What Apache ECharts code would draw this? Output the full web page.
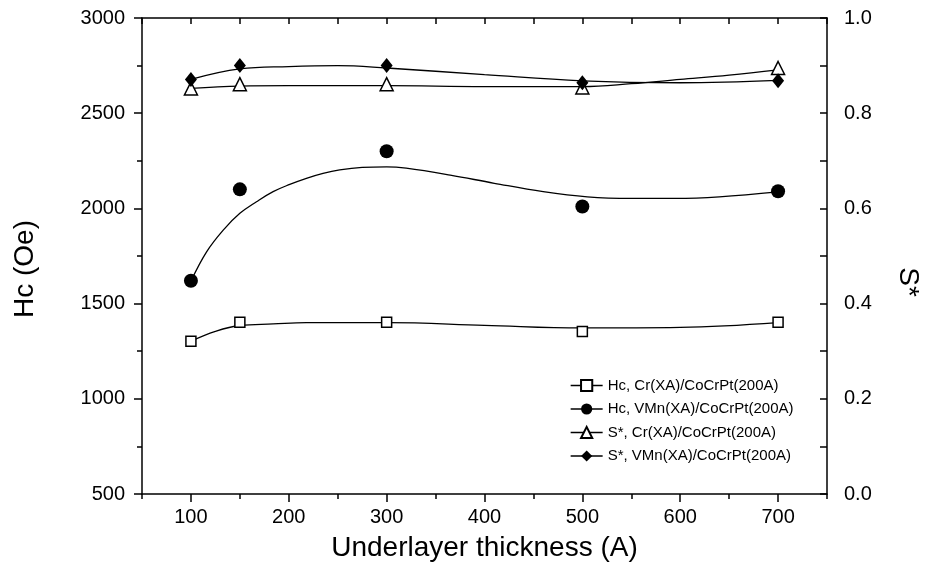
<!DOCTYPE html>
<html>
<head>
<meta charset="utf-8">
<script src="https://cdn.jsdelivr.net/npm/echarts@6/dist/echarts.min.js"></script>
<style>
  html, body { margin: 0; padding: 0; background: #fff; }
  #chart { width: 931px; height: 582px; }
</style>
</head>
<body>
<div id="chart"></div>
<script>
// measured points
const thickness = [100, 150, 300, 500, 700];
const hcCr = [1302, 1402, 1402, 1354, 1402];
const hcVMn = [1620, 2100, 2300, 2010, 2090];
const sCr = [0.852, 0.861, 0.861, 0.854, 0.895];
const sVMn = [0.871, 0.900, 0.900, 0.864, 0.868];

// fitted curves
const hcCrFitX = [100, 125, 150, 184, 218, 300, 400, 500, 600, 700];
const hcCrFitY = [1302, 1354, 1385, 1393, 1400, 1400, 1386, 1372, 1375, 1400];
const hcVMnFitX = [100, 116, 133, 150, 167, 184, 201, 218, 235, 252, 275, 300, 320, 365, 410, 460, 505, 550, 595, 640, 700];
const hcVMnFitY = [1618, 1772, 1886, 1974, 2035, 2088, 2126, 2158, 2184, 2202, 2215, 2218, 2211, 2175, 2132, 2088, 2061, 2053, 2053, 2061, 2087];
const sCrFitX = [100, 150, 200, 300, 400, 500, 550, 600, 650, 700];
const sCrFitY = [0.852, 0.857, 0.858, 0.858, 0.856, 0.856, 0.862, 0.871, 0.880, 0.891];
const sVMnFitX = [100, 150, 200, 250, 300, 400, 500, 600, 700];
const sVMnFitY = [0.871, 0.893, 0.898, 0.900, 0.895, 0.881, 0.868, 0.864, 0.869];

// axis ticks
const xMajorTicks = [100, 200, 300, 400, 500, 600, 700];

const names = [
  'Hc, Cr(XA)/CoCrPt(200A)',
  'Hc, VMn(XA)/CoCrPt(200A)',
  'S*, Cr(XA)/CoCrPt(200A)',
  'S*, VMn(XA)/CoCrPt(200A)'
];

const font = 'Arial, "Liberation Sans", sans-serif';
const zip = (xs, ys) => xs.map((x, i) => [x, ys[i]]);
const black = { color: '#000', width: 1.5 };

function pointSeries(name, data, axis, symbol, size, hollow) {
  return {
    name: name,
    type: 'line',
    yAxisIndex: axis,
    data: zip(thickness, data),
    symbol: symbol,
    symbolSize: size,
    showAllSymbol: true,
    lineStyle: { opacity: 0, color: '#000', width: 1.3 },
    itemStyle: hollow
      ? { color: '#fff', borderColor: '#000', borderWidth: 1.5 }
      : { color: '#000', borderColor: '#000', borderWidth: 0 },
    z: 5,
    silent: true
  };
}

function fitSeries(xs, ys, axis) {
  return {
    type: 'line',
    yAxisIndex: axis,
    data: zip(xs, ys),
    smooth: 0.4,
    symbol: 'none',
    lineStyle: { color: '#000', width: 1.3 },
    z: 3,
    silent: true
  };
}

const chart = echarts.init(document.getElementById('chart'));
chart.setOption({
  backgroundColor: '#fff',
  animation: false,
  textStyle: { fontFamily: font, color: '#000' },
  grid: { left: 142, right: 104, top: 18, bottom: 88 },
  legend: {
    orient: 'vertical',
    left: 570,
    top: 378,
    padding: 0,
    itemWidth: 32,
    itemHeight: 14,
    itemGap: 8.5,
    data: names,
    lineStyle: { color: '#000', width: 1.3, opacity: 1 },
    textStyle: { fontFamily: font, fontSize: 15, color: '#000' }
  },
  xAxis: [
    {
      type: 'value',
      min: 50, max: 750, interval: 50,
      position: 'bottom',
      name: 'Underlayer thickness (A)',
      nameLocation: 'middle',
      nameGap: 40,
      nameTextStyle: { fontFamily: font, fontSize: 28, color: '#000' },
      axisLine: { show: true, onZero: false, lineStyle: black },
      axisTick: { show: true, inside: false, length: 8, customValues: xMajorTicks, lineStyle: black },
      axisLabel: {
        fontSize: 20, color: '#000', margin: 13, fontFamily: font,
        formatter: v => (xMajorTicks.indexOf(v) >= 0 ? String(v) : '')
      },
      splitLine: { show: false }
    },
    {
      type: 'value',
      min: 50, max: 750, interval: 50,
      position: 'bottom',
      axisLine: { show: false, onZero: false },
      axisTick: { show: true, inside: false, length: 5, lineStyle: black },
      axisLabel: { show: false },
      splitLine: { show: false }
    },
    {
      type: 'value',
      min: 50, max: 750, interval: 50,
      position: 'top',
      axisLine: { show: true, onZero: false, lineStyle: black },
      axisTick: { show: true, inside: true, length: 6, lineStyle: black },
      axisLabel: { show: false },
      splitLine: { show: false }
    }
  ],
  yAxis: [
    {
      type: 'value',
      min: 500, max: 3000, interval: 500,
      position: 'left',
      axisLine: { show: true, onZero: false, lineStyle: black },
      axisTick: { show: true, inside: false, length: 8, lineStyle: black },
      minorTick: { show: true, splitNumber: 2, length: 5, lineStyle: black },
      axisLabel: { fontSize: 20, color: '#000', margin: 17, fontFamily: font, formatter: v => String(v) },
      splitLine: { show: false }
    },
    {
      type: 'value',
      min: 0, max: 1, interval: 0.2,
      position: 'right',
      axisLine: { show: true, onZero: false, lineStyle: black },
      axisTick: { show: true, inside: true, length: 7, lineStyle: black },
      minorTick: { show: true, splitNumber: 2, length: 7, lineStyle: black },
      axisLabel: { fontSize: 20, color: '#000', margin: 17, fontFamily: font, formatter: v => v.toFixed(1) },
      splitLine: { show: false }
    }
  ],
  graphic: [
    {
      type: 'text', x: 25, y: 269, rotation: Math.PI / 2,
      style: { text: 'Hc (Oe)', font: '28px ' + font, fill: '#000', align: 'center', verticalAlign: 'middle' }
    },
    {
      type: 'text', x: 908, y: 282, rotation: -Math.PI / 2,
      style: { text: 'S*', font: '28px ' + font, fill: '#000', align: 'center', verticalAlign: 'middle' }
    }
  ],
  series: [
    fitSeries(hcCrFitX, hcCrFitY, 0),
    fitSeries(hcVMnFitX, hcVMnFitY, 0),
    fitSeries(sCrFitX, sCrFitY, 1),
    fitSeries(sVMnFitX, sVMnFitY, 1),
    pointSeries(names[0], hcCr, 0, 'rect', 10, true),
    pointSeries(names[1], hcVMn, 0, 'circle', 14, false),
    pointSeries(names[2], sCr, 1, 'triangle', 13, true),
    pointSeries(names[3], sVMn, 1, 'diamond', [12, 15], false)
  ]
});
</script>
</body>
</html>
